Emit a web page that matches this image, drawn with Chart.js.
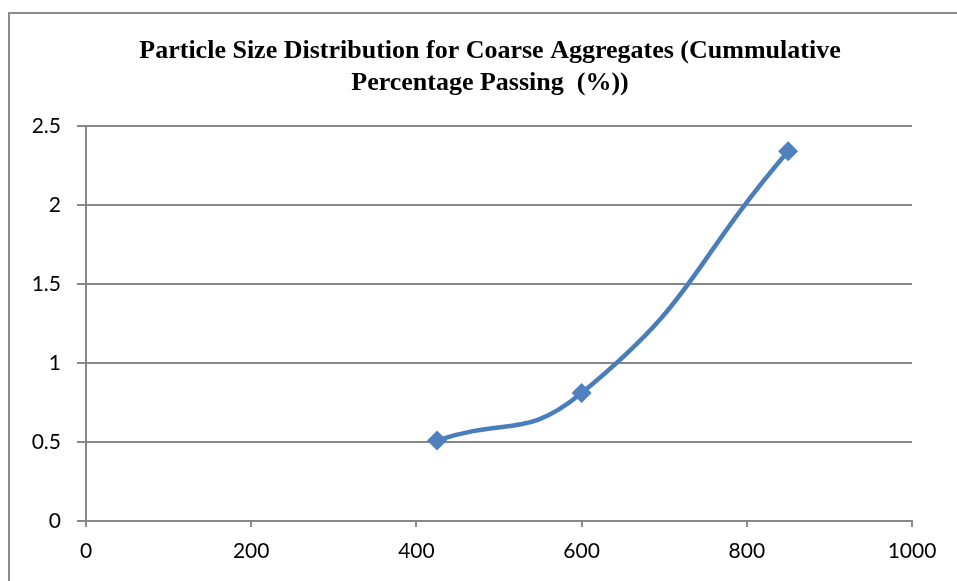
<!DOCTYPE html>
<html>
<head>
<meta charset="utf-8">
<script src="https://cdn.jsdelivr.net/npm/chart.js@4"></script>
<style>
  html, body { margin: 0; padding: 0; background: #fff; overflow: hidden; }
  #frame { position: absolute; left: 8px; top: 12px; width: 1000px; height: 700px; border: 2px solid #8c8c8c; }
  #wrap { position: absolute; left: 0; top: 0; width: 957px; height: 581px; }
</style>
</head>
<body>
<div id="frame"></div>
<div id="wrap"><canvas id="chart"></canvas></div>
<script>
// 체 크기 (마이크론) 와 통과율
const sieveSizes = [425, 600, 850];
const passingValues = [0.51, 0.81, 2.34];
const titleLines = [
    "Particle Size Distribution for Coarse Aggregates (Cummulative",
    "Percentage Passing  (%))"
];

// 제목을 차트 영역이 아닌 그림 전체 기준으로 가운데 정렬해서 그리는 플러그인
const titlePlugin = {
    id: "centerTitle",
    afterDraw(chart) {
        const c = chart.ctx;
        c.save();
        c.fillStyle = "#000";
        c.font = "bold 26px 'Liberation Serif', 'Times New Roman', serif";
        c.textAlign = "center";
        c.textBaseline = "middle";
        titleLines.forEach((line, i) => {
            c.fillText(line, 490, 51 + i * 32);
        });
        c.restore();
    },
};

const ctx = document.getElementById("chart").getContext("2d");

new Chart(ctx, {
    type: "line",
    data: {
        datasets: [
            {
                data: sieveSizes.map((x, i) => ({ x: x, y: passingValues[i] })),
                borderColor: "#4a7ebb",
                backgroundColor: "#4f81bd",
                borderWidth: 4.5,
                tension: 0.5,
                pointStyle: "rectRot",
                pointRadius: 10,
                pointBorderWidth: 0,
                pointBackgroundColor: "#4f81bd",
            },
        ],
    },
    plugins: [titlePlugin],
    options: {
        responsive: true,
        maintainAspectRatio: false,
        animation: false,
        layout: { padding: { left: 0, right: 45, top: 126, bottom: 0 } },
        plugins: {
            legend: { display: false },
            tooltip: { enabled: false },
            title: { display: false },
        },
        scales: {
            x: {
                type: "linear",
                min: 0,
                max: 1000,
                ticks: {
                    stepSize: 200,
                    color: "#000",
                    padding: 12,
                    font: { family: "Lato, 'Open Sans', sans-serif", size: 21 },
                    callback: (value) => String(value),
                },
                grid: {
                    drawOnChartArea: false,
                    tickColor: "#888",
                    tickLength: 6,
                    lineWidth: 2,
                },
                border: { color: "#888", width: 2 },
                afterFit: (scale) => { scale.height = 60; },
            },
            y: {
                min: 0,
                max: 2.5,
                ticks: {
                    stepSize: 0.5,
                    color: "#000",
                    padding: 16,
                    font: { family: "Lato, 'Open Sans', sans-serif", size: 21 },
                    callback: (value) => String(value),
                },
                grid: {
                    color: "#888",
                    lineWidth: 2,
                    tickLength: 9,
                },
                border: { color: "#888", width: 2 },
                afterFit: (scale) => { scale.width = 86; },
            },
        },
    },
});
</script>
</body>
</html>
